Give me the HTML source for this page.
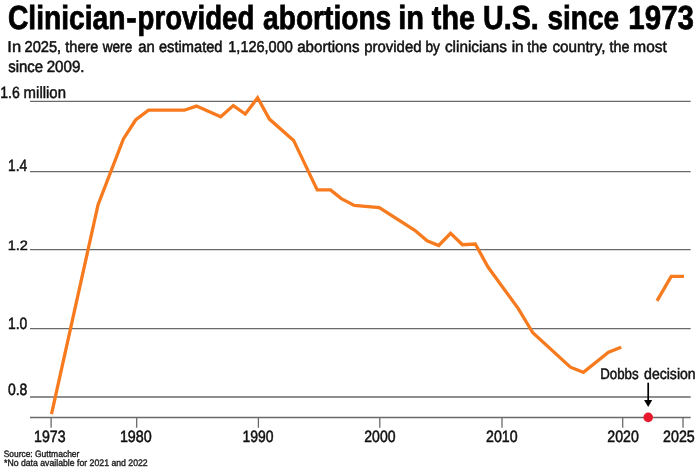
<!DOCTYPE html>
<html><head><meta charset="utf-8">
<style>
html,body{margin:0;padding:0;background:#fff;width:696px;height:470px;overflow:hidden}
svg{display:block;will-change:transform}
text{font-family:"Liberation Sans",sans-serif;text-rendering:geometricPrecision}
</style></head>
<body>
<svg width="696" height="470" viewBox="0 0 696 470">
<rect width="696" height="470" fill="#fff"/>
<g stroke="#6a6a6a" stroke-width="1.3" fill="none">
<line x1="30" y1="101.4" x2="690.7" y2="101.4"/>
<line x1="30" y1="171.7" x2="690.7" y2="171.7"/>
<line x1="30" y1="249.6" x2="690.7" y2="249.6"/>
<line x1="30" y1="328.6" x2="690.7" y2="328.6"/>
<line x1="30" y1="397.0" x2="690.7" y2="397.0"/>
<line x1="30" y1="417.5" x2="690.7" y2="417.5"/>
<line x1="51.1" y1="417.5" x2="51.1" y2="427.7"/>
<line x1="136.7" y1="417.5" x2="136.7" y2="427.7"/>
<line x1="258.4" y1="417.5" x2="258.4" y2="427.7"/>
<line x1="379.8" y1="417.5" x2="379.8" y2="427.7"/>
<line x1="502" y1="417.5" x2="502" y2="427.7"/>
<line x1="622.7" y1="417.5" x2="622.7" y2="427.7"/>
<line x1="683" y1="417.5" x2="683" y2="427.7"/>
</g>
<polyline fill="none" stroke="#f77b1e" stroke-width="3.3" stroke-linejoin="miter" points="51.5,414.2 98,205 123.4,138.9 135.6,120 148.5,110.2 184.3,110.2 196.5,106.1 220.7,116.7 233.3,105.6 245.3,114.1 257.6,97.8 269.4,119.1 293.6,140.4 317.2,189.9 330.5,189.9 341.3,198.6 354.3,205.4 379.3,207.5 414.8,230.3 427.1,240.8 438.7,245.5 450.6,233.3 462.5,244.7 475.3,244 488,267 518.3,308.6 532.8,332.8 570.4,367.2 583.4,372.4 608.5,352.3 621.2,347.3"/>
<polyline fill="none" stroke="#f77b1e" stroke-width="3.3" stroke-linejoin="miter" points="657,300.9 671.2,276.4 684,276.4"/>
<line x1="648.2" y1="382.7" x2="648.2" y2="401" stroke="#000" stroke-width="1.7"/>
<polygon points="644.1,400.1 652.2,400.1 648.2,406.9" fill="#000"/>
<circle cx="648.2" cy="417.4" r="4.8" fill="#e8192c"/>

<text transform="translate(8.0,28.71) scale(0.28194,0.33326)" font-size="100" font-weight="bold" fill="#000" stroke="#000" stroke-width="2.31">Clinician</text>
<text transform="translate(126.27,28.75) scale(0.314,0.3344)" font-size="100" font-weight="bold" fill="#000" stroke="#000" stroke-width="2.07">-</text>
<text transform="translate(137.49,28.71) scale(0.27665,0.33304)" font-size="100" font-weight="bold" fill="#000" stroke="#000" stroke-width="2.35">provided</text>
<text transform="translate(263.08,28.71) scale(0.28136,0.33323)" font-size="100" font-weight="bold" fill="#000" stroke="#000" stroke-width="2.31">abortions</text>
<text transform="translate(398.29,28.72) scale(0.29013,0.33357)" font-size="100" font-weight="bold" fill="#000" stroke="#000" stroke-width="2.24">in</text>
<text transform="translate(431.84,28.72) scale(0.28664,0.33344)" font-size="100" font-weight="bold" fill="#000" stroke="#000" stroke-width="2.27">the</text>
<text transform="translate(483.0,28.72) scale(0.28709,0.33346)" font-size="100" font-weight="bold" fill="#000" stroke="#000" stroke-width="2.26">U.S.</text>
<text transform="translate(547.51,28.71) scale(0.27964,0.33316)" font-size="100" font-weight="bold" fill="#000" stroke="#000" stroke-width="2.32">since</text>
<text transform="translate(628.36,28.73) scale(0.2946,0.33374)" font-size="100" font-weight="bold" fill="#000" stroke="#000" stroke-width="2.21">1973</text>
<text transform="translate(7.37,52.46) scale(0.16471,0.15732)" font-size="100" fill="#111" stroke="#111" stroke-width="3.04">In</text>
<text transform="translate(24.52,52.43) scale(0.14619,0.15644)" font-size="100" fill="#111" stroke="#111" stroke-width="3.42">2025,</text>
<text transform="translate(65.26,52.43) scale(0.1457,0.15642)" font-size="100" fill="#111" stroke="#111" stroke-width="3.43">there</text>
<text transform="translate(102.75,52.41) scale(0.13585,0.15585)" font-size="100" fill="#111" stroke="#111" stroke-width="3.68">were</text>
<text transform="translate(138.16,52.44) scale(0.14851,0.15657)" font-size="100" fill="#111" stroke="#111" stroke-width="3.37">an</text>
<text transform="translate(158.96,52.43) scale(0.14657,0.15646)" font-size="100" fill="#111" stroke="#111" stroke-width="3.41">estimated</text>
<text transform="translate(228.29,52.43) scale(0.14503,0.15638)" font-size="100" fill="#111" stroke="#111" stroke-width="3.45">1,126,000</text>
<text transform="translate(297.14,52.44) scale(0.15149,0.15672)" font-size="100" fill="#111" stroke="#111" stroke-width="3.30">abortions</text>
<text transform="translate(364.2,52.44) scale(0.14946,0.15661)" font-size="100" fill="#111" stroke="#111" stroke-width="3.35">provided</text>
<text transform="translate(425.53,52.41) scale(0.13636,0.15588)" font-size="100" fill="#111" stroke="#111" stroke-width="3.67">by</text>
<text transform="translate(444.94,52.44) scale(0.15302,0.15679)" font-size="100" fill="#111" stroke="#111" stroke-width="3.27">clinicians</text>
<text transform="translate(511.68,52.44) scale(0.15312,0.1568)" font-size="100" fill="#111" stroke="#111" stroke-width="3.27">in</text>
<text transform="translate(527.36,52.43) scale(0.14361,0.1563)" font-size="100" fill="#111" stroke="#111" stroke-width="3.48">the</text>
<text transform="translate(552.44,52.44) scale(0.15194,0.15674)" font-size="100" fill="#111" stroke="#111" stroke-width="3.29">country,</text>
<text transform="translate(609.56,52.43) scale(0.14361,0.1563)" font-size="100" fill="#111" stroke="#111" stroke-width="3.48">the</text>
<text transform="translate(633.37,52.45) scale(0.15407,0.15684)" font-size="100" fill="#111" stroke="#111" stroke-width="3.25">most</text>
<text transform="translate(8.2,72.23) scale(0.14956,0.16215)" font-size="100" fill="#111" stroke="#111" stroke-width="3.34">since</text>
<text transform="translate(46.69,72.23) scale(0.15127,0.16224)" font-size="100" fill="#111" stroke="#111" stroke-width="3.31">2009.</text>
<text transform="translate(0.25,97.74) scale(0.14094,0.16247)" font-size="100" fill="#111" stroke="#111" stroke-width="3.19">1.6</text>
<text transform="translate(23.58,97.75) scale(0.14981,0.16292)" font-size="100" fill="#111" stroke="#111" stroke-width="3.00">million</text>
<text transform="translate(8.02,171.43) scale(0.13789,0.16369)" font-size="100" fill="#111" stroke="#111" stroke-width="3.26">1.4</text>
<text transform="translate(7.66,249.79) scale(0.14563,0.13495)" font-size="100" fill="#111" stroke="#111" stroke-width="3.09">1.2</text>
<text transform="translate(8.01,328.63) scale(0.13898,0.16375)" font-size="100" fill="#111" stroke="#111" stroke-width="3.24">1.0</text>
<text transform="translate(7.97,394.53) scale(0.13931,0.16377)" font-size="100" fill="#111" stroke="#111" stroke-width="3.23">0.8</text>
<text transform="translate(34.09,442.34) scale(0.14167,0.1639)" font-size="100" fill="#111" stroke="#111" stroke-width="3.18">1973</text>
<text transform="translate(119.88,442.34) scale(0.1431,0.16397)" font-size="100" fill="#111" stroke="#111" stroke-width="3.14">1980</text>
<text transform="translate(242.41,442.33) scale(0.13976,0.16379)" font-size="100" fill="#111" stroke="#111" stroke-width="3.22">1990</text>
<text transform="translate(364.22,442.34) scale(0.14108,0.16387)" font-size="100" fill="#111" stroke="#111" stroke-width="3.19">2000</text>
<text transform="translate(486.01,442.34) scale(0.14202,0.16392)" font-size="100" fill="#111" stroke="#111" stroke-width="3.17">2010</text>
<text transform="translate(607.32,442.34) scale(0.14155,0.16389)" font-size="100" fill="#111" stroke="#111" stroke-width="3.18">2020</text>
<text transform="translate(663.01,442.34) scale(0.14296,0.16397)" font-size="100" fill="#111" stroke="#111" stroke-width="3.15">2025</text>
<text transform="translate(600.16,379.44) scale(0.13303,0.15235)" font-size="100" fill="#111" stroke="#111" stroke-width="3.38">Dobbs</text>
<text transform="translate(644.06,379.45) scale(0.14059,0.15275)" font-size="100" fill="#111" stroke="#111" stroke-width="3.20">decision</text>
<text transform="translate(3.76,456.8) scale(0.08379,0.09315)" font-size="100" fill="#222" stroke="#222" stroke-width="4.18">Source:</text>
<text transform="translate(34.95,456.81) scale(0.08517,0.09324)" font-size="100" fill="#222" stroke="#222" stroke-width="4.11">Guttmacher</text>
<text transform="translate(4.0,466.31) scale(0.08701,0.09609)" font-size="100" fill="#222" stroke="#222" stroke-width="4.02">*No data available for 2021 and 2022</text>
</svg>
</body></html>
